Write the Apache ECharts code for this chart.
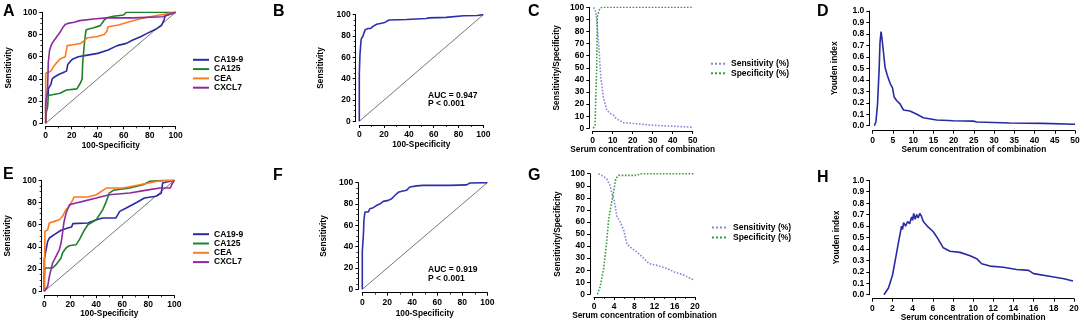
<!DOCTYPE html>
<html><head><meta charset="utf-8">
<script src="https://cdn.jsdelivr.net/npm/echarts@6/dist/echarts.min.js"></script>
<style>html,body{margin:0;padding:0;background:#fff}#c{width:1084px;height:324px}</style>
</head><body><div id="c"></div>
<script>
// ---------- DATA ----------
// Panel A: ROC of individual markers (x = 100-Specificity, y = Sensitivity)
const aCA199 = [[0,0],[0,26],[2,26],[2,31],[4,35],[5,40],[7,42],[10,44],[14,46],[16,47],[17,53],[19,56],[21,58],[25,60],[30,61],[40,63],[48,66],[55,70],[62,72],[67,75],[73,78],[78,81],[85,85],[89,88],[91,93],[92,97],[100,100]];
const aCA125 = [[0,0],[0.5,10],[1.5,15],[2,16],[2,25],[6,26],[11,27],[16,30],[24,31],[27,37],[28,40],[28.5,55],[30,75],[31,84],[33,85],[37,86],[42,88],[45,93],[47,95],[52,96.5],[60,97.5],[62,100],[100,100]];
const aCEA = [[0,0],[0,45],[2,46],[4,47],[6,51],[8,54],[11,58],[15,60],[16,66],[16.5,70],[22,71],[27,72],[30,75],[32,77],[39,78],[45,80],[47,83],[48,87],[56,88.5],[63,91],[72,94],[80,96],[90,98],[100,100]];
const aCXCL7 = [[0,0],[0,18],[1,25],[1.5,33],[2,55],[3,66],[4.5,71],[6,74],[8.5,78],[11,82],[13,86],[15,89],[17,90],[22,91],[26,92.5],[37,94],[47,95],[67,95],[90,96],[100,100]];
// Panel B: ROC of combination
const bComb = [[0,0],[0,44],[0.5,62],[1,70],[1.5,77],[3,80],[3.5,82],[4.8,86],[7,87],[9,87],[11,89],[14,91],[18,92],[21,93],[24,95],[38,95.5],[54,96.5],[56,97],[70,97.5],[84,99],[95,99.2],[100,100]];
// Panel C: sensitivity / specificity vs concentration
const cSens = [[0.5,100],[1.2,99],[1.6,96],[2.3,84],[3.3,62],[4,43],[5.3,26],[7,15],[8.7,12.4],[10.3,11],[11.5,8.5],[12.8,7],[15.3,4.7],[20,4],[23.7,3.6],[28,2.8],[32,2.3],[40,1.8],[50,0.8]];
const cSpec = [[0.3,0],[1.2,3],[1.6,30],[2,50],[2.3,92],[3.3,98],[4.5,100],[50,100]];
// Panel D: Youden index
const dYouden = [[0.4,0],[0.8,0.035],[1.2,0.19],[1.6,0.5],[1.8,0.72],[2.06,0.82],[2.3,0.76],[2.6,0.66],[3.05,0.51],[3.6,0.44],[4.3,0.37],[4.9,0.33],[5.3,0.25],[5.9,0.22],[6.75,0.19],[7.6,0.137],[9.2,0.128],[10.9,0.1],[12.5,0.07],[15.8,0.05],[20,0.043],[24.9,0.04],[25.7,0.032],[33.9,0.023],[42,0.02],[50,0.012]];
// Panel E: ROC of individual markers (second cohort)
const eCA199 = [[0,0],[0,14],[0,29],[1,30],[2.6,45],[3.9,48],[7.7,51],[12.9,55],[18,57],[21,58],[22,61],[33.5,61.5],[40,64.5],[45,66],[55,66],[58,72],[63,75],[71,80],[77,84],[86,85.6],[90,88.5],[91,97.6],[100,100]];
const eCA125 = [[0,0],[0,12],[0.5,21],[6.4,21],[9,24],[12.9,30],[14,34.5],[16.7,39],[19,41],[24.5,42],[27,46.5],[31,55.5],[33.5,60],[40,64.5],[45,73.6],[47.7,81],[50,88.5],[53,91],[65.7,93],[76,96],[81,99],[91.5,100],[100,100]];
const eCEA = [[0,0],[0.5,54],[2.6,55.5],[3.9,61.5],[7.7,63],[11.6,64.5],[14,67.6],[16.7,73.6],[19.3,76.6],[22,82.6],[23,85],[33.5,85],[40,87],[47.7,93],[60.6,93],[73.5,96],[86,99],[100,100]];
const eCXCL7 = [[0,0],[1.3,1.5],[2.6,4.5],[3.9,13.5],[6.4,25.5],[9,31.5],[11.6,37.5],[12.9,43.5],[14.2,54],[15,61.5],[16.8,70.6],[19.3,78],[24.5,79.6],[29.6,81],[40,84],[50,87],[65.7,88.5],[81,91.6],[89,93],[97,93],[98,96],[100,100]];
// Panel F: ROC of combination (second cohort)
const fComb = [[0,0],[0,35],[0.5,35],[1,54],[1.3,65],[2.1,72.5],[4.8,72.5],[6,75.6],[8.8,76.6],[11.5,78.8],[14,80],[16.8,82.5],[20.8,83.4],[23.5,85],[26,88],[28.8,91],[31.5,91.9],[35.5,93],[38,96],[43.5,97],[48.8,97.5],[70,97.5],[83.5,98],[86,99.7],[100,100]];
// Panel G
const gSens = [[0.87,100],[1.5,98.6],[2.5,95.9],[3.2,90],[3.5,84.5],[3.9,79],[4.2,73.5],[4.5,65],[5.2,60],[5.9,53],[6.5,42],[7.2,39],[8.5,35],[9.9,29.6],[10.9,25.4],[12.5,24],[14.5,21.3],[15.9,18.5],[17.9,15.7],[19.9,11.6]];
const gSpec = [[0.67,0],[1.2,6],[1.9,21],[2.5,43],[2.9,62],[3.5,76.5],[3.9,85],[4.3,96],[4.9,98.6],[8.5,98.6],[9.2,100],[20,100]];
// Panel H
const hYouden = [[1.16,0],[1.6,0.058],[2.0,0.17],[2.25,0.29],[2.6,0.46],[2.9,0.6],[3.0,0.57],[3.1,0.63],[3.3,0.6],[3.5,0.64],[3.7,0.62],[3.9,0.68],[4.0,0.65],[4.1,0.71],[4.25,0.66],[4.4,0.7],[4.55,0.67],[4.7,0.71],[4.85,0.69],[5.06,0.64],[5.55,0.59],[6.05,0.55],[6.5,0.49],[7.04,0.41],[7.7,0.38],[8.7,0.37],[9.7,0.34],[10.35,0.315],[10.85,0.27],[11.67,0.25],[13,0.24],[14.3,0.22],[15.5,0.213],[16,0.184],[18,0.155],[19,0.14],[19.9,0.12]];
const diag = [[0,0],[100,100]];
const markerNames = ['CA19-9','CA125','CEA','CXCL7'];
const curveNames = ['Sensitivity (%)','Specificity (%)'];
const panelLetters = ['A','B','C','D','E','F','G','H'];
const aucTextB = ['AUC = 0.947','P < 0.001'];
const aucTextF = ['AUC = 0.919','P < 0.001'];

// ---------- STYLE ----------
const FF = '"Liberation Sans", Arial, sans-serif';
const COL = {CA199:'#2b2ba0', CA125:'#23802a', CEA:'#ff7a1f', CXCL7:'#8e2aa0', comb:'#2f2fae', sens:'#8a86dc', spec:'#3c9c3c', youden:'#2a2aa2', diag:'#555'};

const grids = [
  {left:45.7, top:12.3, width:130, height:111},
  {left:359.3, top:14.7, width:124, height:106.6},
  {left:592.7, top:7.3, width:100, height:121},
  {left:872.7, top:11, width:202.3, height:114.7},
  {left:44.3, top:180.3, width:130, height:111},
  {left:362.3, top:182.7, width:125, height:106.6},
  {left:594, top:173.7, width:101, height:120.6},
  {left:872.3, top:180.3, width:201.7, height:114.4}
].map(g => Object.assign({outerBoundsMode:'none', containLabel:false}, g));

function ax(gi, isX, max, interval, name, gap, off, minor, dec) {
  return {
    gridIndex: gi, type:'value', min:0, max:max, interval:interval,
    name:name, nameLocation:'middle', nameGap:gap,
    nameTextStyle:{fontFamily:FF, fontWeight:'bold', fontSize:8.3, color:'#000'},
    offset: off,
    axisLine:{show:true, onZero:false, lineStyle:{color:'#000', width:1}},
    axisTick:{show:true, length:3, lineStyle:{color:'#000', width:1}},
    minorTick:{show: !!minor, splitNumber: minor || 2, length:2, lineStyle:{color:'#000', width:0.8}},
    axisLabel:{fontFamily:FF, fontWeight:'bold', fontSize:8.5, color:'#000', margin:5,
      showMinLabel:true, showMaxLabel:true, hideOverlap:false,
      formatter: dec ? (v => v.toFixed(dec)) : null},
    splitLine:{show:false}, minorSplitLine:{show:false}
  };
}

const xAxes = [
  ax(0,true,100,20,'100-Specificity',15,3,2),
  ax(1,true,100,20,'100-Specificity',15.5,3.7,2),
  ax(2,true,50,10,'Serum concentration of combination',14,2.7,0),
  ax(3,true,50,5,'Serum concentration of combination',14,5,0),
  ax(4,true,100,20,'100-Specificity',13.5,4,2),
  ax(5,true,100,20,'100-Specificity',17,3.4,2),
  ax(6,true,20,4,'Serum concentration of combination',14,2.7,2),
  ax(7,true,20,2,'Serum concentration of combination',15,4,0)
];
const yAxes = [
  ax(0,false,100,20,'Sensitivity',30,3.4,4),
  ax(1,false,100,20,'Sensitivity',31,3.6,4),
  ax(2,false,100,10,'Sensitivity/Specificity',29,3.4,0),
  ax(3,false,1,0.1,'Youden index',31,3.4,0,1),
  ax(4,false,100,20,'Sensitivity',30,2.6,4),
  ax(5,false,100,20,'Sensitivity',31,4,4),
  ax(6,false,100,10,'Sensitivity/Specificity',28,4,0),
  ax(7,false,1,0.1,'Youden index',29,3,0,1)
];

function ln(gi, name, data, color, width, type) {
  return {type:'line', name:name, xAxisIndex:gi, yAxisIndex:gi, data:data,
    symbol:'none', showSymbol:false, silent:true, animation:false,
    lineStyle:{color:color, width:width, type:type || 'solid'}, itemStyle:{color:color},
    z: name ? 3 : 2};
}

const series = [
  ln(0,'', diag, COL.diag, 0.8),
  ln(0,markerNames[0], aCA199, COL.CA199, 1.6),
  ln(0,markerNames[1], aCA125, COL.CA125, 1.6),
  ln(0,markerNames[2], aCEA, COL.CEA, 1.6),
  ln(0,markerNames[3], aCXCL7, COL.CXCL7, 1.6),
  ln(1,'', diag, COL.diag, 0.8),
  ln(1,'Combination B', bComb, COL.comb, 1.6),
  ln(2,curveNames[0], cSens, COL.sens, 1.6, 'dotted'),
  ln(2,curveNames[1], cSpec, COL.spec, 1.6, 'dotted'),
  ln(3,'Youden D', dYouden, COL.youden, 1.6),
  ln(4,'', diag, COL.diag, 0.8),
  ln(4,markerNames[0], eCA199, COL.CA199, 1.6),
  ln(4,markerNames[1], eCA125, COL.CA125, 1.6),
  ln(4,markerNames[2], eCEA, COL.CEA, 1.6),
  ln(4,markerNames[3], eCXCL7, COL.CXCL7, 1.6),
  ln(5,'', diag, COL.diag, 0.8),
  ln(5,'Combination F', fComb, COL.comb, 1.6),
  ln(6,curveNames[0], gSens, COL.sens, 1.6, 'dotted'),
  ln(6,curveNames[1], gSpec, COL.spec, 1.6, 'dotted'),
  ln(7,'Youden H', hYouden, COL.youden, 1.6)
];

function lg(names, left, top, w, gap) {
  return {data:names, orient:'vertical', left:left, top:top, itemWidth:w, itemHeight:8, itemGap:gap,
    padding:0, selectedMode:false,
    itemStyle:{opacity:0, borderWidth:0},
    textStyle:{fontFamily:FF, fontWeight:'bold', fontSize:8.5, color:'#000', lineHeight:8, padding:[0,0,0,0]}};
}
const legends = [
  lg(markerNames, 192, 55.3, 16, 0.3),
  lg(curveNames, 710, 59.3, 15, 0.4),
  lg(markerNames, 192, 229.7, 16, 0.3),
  lg(curveNames, 711, 223, 16, 1)
];

const letterPos = [[3,4],[273,4],[528,4],[817,4],[3,167],[273,168],[528,168],[817,170]];
const graphics = panelLetters.map((t,i) => ({type:'text', left:letterPos[i][0], top:letterPos[i][1],
  style:{text:t, font:'bold 16px ' + FF, fill:'#000'}}));
graphics.push({type:'text', left:428, top:91, style:{text:aucTextB.join('\n'), font:'bold 8.5px ' + FF, fill:'#000', lineHeight:8.5}});
graphics.push({type:'text', left:428, top:265.5, style:{text:aucTextF.join('\n'), font:'bold 8.5px ' + FF, fill:'#000', lineHeight:8.5}});

const chart = echarts.init(document.getElementById('c'), null, {renderer:'canvas'});
chart.setOption({
  backgroundColor:'#fff', animation:false,
  grid:grids, xAxis:xAxes, yAxis:yAxes, series:series, legend:legends, graphic:graphics,
  tooltip:{show:false}
});
</script></body></html>
